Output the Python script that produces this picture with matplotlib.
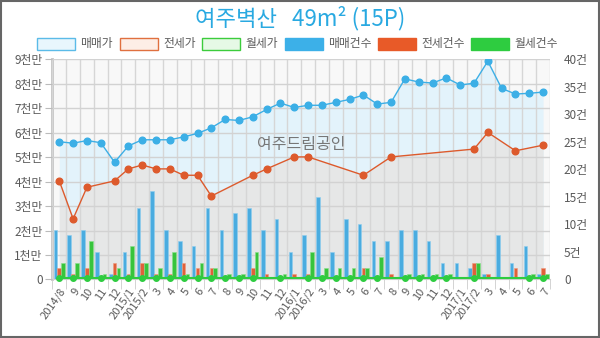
import matplotlib
matplotlib.use("Agg")
import matplotlib.pyplot as plt
from matplotlib.patches import Rectangle
from matplotlib.ticker import FuncFormatter, FixedLocator
import numpy as np

plt.rcParams['font.family'] = ['Noto Sans CJK KR', 'DejaVu Sans']

# months 2014/8 .. 2017/7
months = ["2014/8", "9", "10", "11", "12", "2015/1", "2015/2", "3", "4", "5", "6",
          "7", "8", "9", "10", "11", "12", "2016/1", "2016/2", "3", "4", "5", "6",
          "7", "8", "9", "10", "11", "12", "2017/1", "2017/2", "3", "4", "5", "6", "7"]

# prices in 만원
sale_price = [5630, 5570, 5680, 5590, 4790, 5460, 5710, 5710, 5710, 5830, 5970,
              6200, 6540, 6500, 6650, 6950, 7210, 7030, 7120, 7120, 7240, 7360, 7540,
              7170, 7240, 8200, 8070, 8030, 8240, 7950, 8020, 8920, 7810, 7580, 7610, 7660]
jeonse_price = [4030, 2480, 3770, None, 4030, 4520, 4680, 4520, 4520, 4260, 4260,
                3410, None, None, 4260, 4520, None, 5010, 5010, None, None, None, 4260,
                None, 5010, None, None, None, None, None, 5330, 6010, None, 5260, None, 5490]
rent_price = [50, 50, 50, 50, 50, 50, 50, 50, 50, 50, 50,
              50, 50, 50, 50, None, 50, None, 50, 50, 50, 50, 50,
              50, None, 50, 50, 50, 50, None, 50, None, None, None, 50, 50]

# counts (건)
sale_cnt = [9, 8, 9, 5, 1, 5, 13, 16, 9, 7, 6, 13, 9, 12, 13, 9, 11, 5, 8, 15, 5, 11,
            10, 7, 7, 9, 9, 7, 3, 3, 2, 1, 8, 3, 6, 1]
jeonse_cnt = [2, 1, 2, 0, 3, 1, 3, 1, 1, 3, 2, 2, 0, 0, 2, 1, 0, 1, 1, 0, 0, 0,
              2, 0, 1, 0, 0, 0, 0, 0, 3, 1, 0, 2, 0, 2]
rent_cnt = [3, 3, 7, 1, 2, 6, 3, 2, 5, 1, 3, 2, 1, 1, 5, 0, 1, 0, 5, 2, 2, 2,
            2, 4, 0, 1, 1, 1, 1, 0, 3, 0, 0, 0, 1, 1]

BLUE = '#3cafe6'
ORANGE = '#dd5a2c'
GREEN = '#2ecc40'
GRAY_TXT = '#5a5a5a'

x = np.arange(len(months))

fig = plt.figure(figsize=(6, 3.38), dpi=100)
pos = [0.0873, 0.1731, 0.8294, 0.6515]
ax = fig.add_axes(pos)
ax2 = ax.twinx()
ax3 = ax.twinx()

ax.set_facecolor('#f8f8f8')
ax.set_xlim(-0.5, len(months) - 0.5)
ax.set_ylim(0, 9000)
ax2.set_ylim(0, 40)
ax3.set_ylim(0, 9000)

# fills
ax.fill_between(x, sale_price, 0, color='#e3f3fb', zorder=1, lw=0)
jx = [i for i, v in enumerate(jeonse_price) if v is not None]
jy = [v for v in jeonse_price if v is not None]
ax.fill_between(jx, jy, 0, color='#e6e7e7', zorder=1.1, lw=0)

# grid
ax.set_axisbelow(False)
ax.yaxis.set_major_locator(FixedLocator(np.arange(0, 9001, 1000)))
ax.yaxis.set_major_formatter(FuncFormatter(lambda v, p: '0' if v == 0 else f'{int(v / 1000)}천만'))
ax.grid(axis='y', color='#d2d2d2', lw=1)
ax.set_xticks(x)
ax.set_xticklabels(months, rotation=55, ha='right', rotation_mode='anchor')
ax.set_xticks(np.arange(-0.5, len(months), 1), minor=True)
ax.grid(axis='x', which='minor', color='#d6d6d6', lw=1)
ax.tick_params(axis='x', which='major', length=0, labelsize=8, colors=GRAY_TXT, pad=5)
ax.tick_params(axis='x', which='minor', length=7, color='#cccccc')
ax.tick_params(axis='y', length=5, color='#bbbbbb', labelsize=8.5, labelcolor=GRAY_TXT, pad=2)
for s in ['top', 'right']:
    ax.spines[s].set_visible(False)
ax.spines['left'].set_color('#c4c4c4')
ax.spines['left'].set_linewidth(2)
ax.spines['bottom'].set_color('#d0d0d0')

# bars on right axis
w = 0.26
ax2.bar(x - 0.28, sale_cnt, w, color='#4aace0', edgecolor='#8fcdee', lw=0.4)
ax2.bar(x, jeonse_cnt, w, color='#e0603a', edgecolor='#ee9a7e', lw=0.4)
ax2.bar(x + 0.28, rent_cnt, w, color='#38c43c', edgecolor='#88e08a', lw=0.4)
ax2.yaxis.set_major_locator(FixedLocator(np.arange(0, 41, 5)))
ax2.yaxis.set_major_formatter(FuncFormatter(lambda v, p: '0' if v == 0 else f'{int(v)}건'))
ax2.tick_params(axis='y', length=0, labelsize=8.5, labelcolor=GRAY_TXT, pad=10)
for s in ax2.spines.values():
    s.set_visible(False)

# lines on top
ax3.plot(x, sale_price, color=BLUE, lw=1, marker='o', ms=4.8, mec=BLUE, zorder=3)
ax3.plot(jx, jy, color=ORANGE, lw=1, marker='o', ms=4.8, mec=ORANGE, zorder=3)
rx = [i for i, v in enumerate(rent_price) if v is not None]
ry = [v for v in rent_price if v is not None]
ax3.plot(rx, ry, color=GREEN, lw=1.5, marker='o', ms=4, mec=GREEN, zorder=3, clip_on=False)
ax3.set_yticks([])
for s in ax3.spines.values():
    s.set_visible(False)
ax3.text(0.5, 0.615, '여주드림공인', transform=ax3.transAxes, ha='center', va='center',
         fontsize=11.5, color='#777777')

# title
fig.text(0.5, 1 - 18 / 338, '여주벽산   49m² (15P)', ha='center', va='center',
         fontsize=16, color='#29a9e1')

# legend
legend_items = [
    ('매매가', '#e8f6fd', '#5bbbe8'),
    ('전세가', '#fdeee6', '#e0703f'),
    ('월세가', '#e6f9e6', '#3ccc3c'),
    ('매매건수', '#3cb0e8', '#3cb0e8'),
    ('전세건수', '#e85a28', '#e85a28'),
    ('월세건수', '#2ecc40', '#2ecc40'),
]
box_x = [37, 120, 202, 285, 378, 471]
for (label, fc, ec), bx in zip(legend_items, box_x):
    fig.patches.append(Rectangle((bx / 600, 1 - 50 / 338), 38 / 600, 12 / 338,
                                 transform=fig.transFigure, facecolor=fc,
                                 edgecolor=ec, lw=1))
    fig.text((bx + 43) / 600, 1 - 44 / 338, label, ha='left', va='center',
             fontsize=8.5, color=GRAY_TXT)

# outer frame
fig.patches.append(Rectangle((0.001, 0.002), 0.997, 0.995, transform=fig.transFigure,
                             fill=False, edgecolor='#666666', lw=1.5))

fig.savefig('out.png', dpi=100)
